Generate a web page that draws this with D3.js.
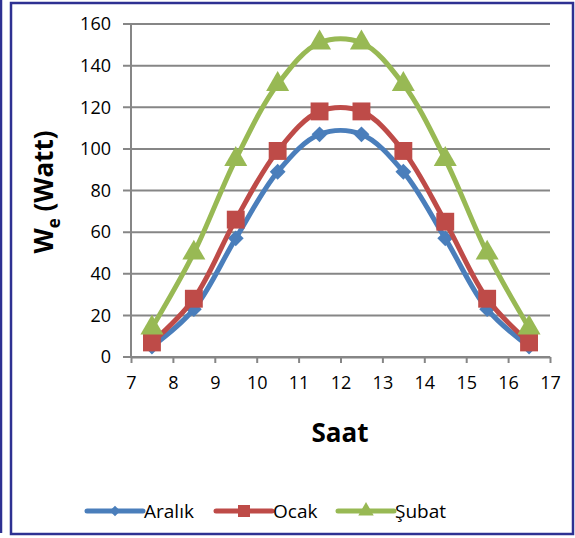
<!DOCTYPE html>
<html lang="tr">
  <head>
    <meta charset="UTF-8">
    <script src="https://d3js.org/d3.v7.min.js"></script>
    <title>We (Watt)</title>
    <style>
      body { margin: 0; background: #fff; }
      svg { display: block; font-family: "Open Sans", sans-serif; }
    </style>
  </head>
  <body>
    <div id="chart"></div>
    <script>
      // saat değerleri (x)
      const hours = [7.5, 8.5, 9.5, 10.5, 11.5, 12.5, 13.5, 14.5, 15.5, 16.5];
      const aralik = [5, 23, 57, 89, 107, 107, 89, 57, 23, 5];
      const ocak = [7, 28, 66, 99, 118, 118, 99, 65, 28, 7];
      const subat = [14, 50, 95, 131, 151, 151, 131, 95, 50, 14];
      const xTicks = [7, 8, 9, 10, 11, 12, 13, 14, 15, 16, 17];
      const yTicks = [0, 20, 40, 60, 80, 100, 120, 140, 160];

      const series = [
        { name: 'Aralık', values: aralik, color: '#4A7EBB', symbol: d3.symbolDiamond2, size: 160 },
        { name: 'Ocak', values: ocak, color: '#BE4B48', symbol: d3.symbolSquare, size: 320 },
        { name: 'Şubat', values: subat, color: '#98B954', symbol: d3.symbolTriangle, size: 230 }
      ];

      const width = 575, height = 538;
      const svg = d3.select('#chart').append('svg')
        .attr('width', width).attr('height', height);

      // çerçeve
      svg.append('line').attr('x1', 1).attr('x2', 1).attr('y1', 0).attr('y2', 533)
        .attr('stroke', '#2E3192').attr('stroke-width', 2.5);
      svg.append('rect').attr('x', 11).attr('y', 3).attr('width', 562).attr('height', 531)
        .attr('fill', 'none').attr('stroke', '#2E3192').attr('stroke-width', 2.5);

      const x = d3.scaleLinear().domain([7, 17]).range([131, 550]);
      const y = d3.scaleLinear().domain([0, 160]).range([357, 24]);

      // ızgara
      svg.append('g').selectAll('line').data(yTicks).join('line')
        .attr('x1', 123).attr('x2', 550)
        .attr('y1', d => y(d)).attr('y2', d => y(d))
        .attr('stroke', '#868686').attr('stroke-width', 2);

      svg.append('line').attr('x1', 131).attr('x2', 131).attr('y1', y(160)).attr('y2', y(0))
        .attr('stroke', '#868686').attr('stroke-width', 2);

      const xAxis = svg.append('g').attr('transform', `translate(0,${y(0)})`)
        .call(d3.axisBottom(x).tickValues(xTicks).tickSize(6).tickSizeOuter(0).tickPadding(13));
      xAxis.select('.domain').attr('stroke', '#868686').attr('stroke-width', 2);
      xAxis.selectAll('.tick line').attr('stroke', '#868686').attr('stroke-width', 2);
      xAxis.selectAll('.tick text').attr('font-size', 18).attr('fill', '#000')
        .attr('font-family', '"Open Sans", sans-serif');

      svg.append('g').selectAll('text').data(yTicks).join('text')
        .attr('x', 111).attr('y', d => y(d)).attr('dy', '0.35em')
        .attr('text-anchor', 'end').attr('font-size', 18).text(d => d);

      // eksen başlıkları
      svg.append('text').attr('x', 340).attr('y', 442).attr('text-anchor', 'middle')
        .attr('font-size', 26).attr('font-weight', 'bold').text('Saat');

      const yl = svg.append('text').attr('transform', 'translate(53,192) rotate(-90)')
        .attr('text-anchor', 'middle').attr('font-size', 26).attr('font-weight', 'bold');
      yl.append('tspan').text('W');
      yl.append('tspan').attr('font-size', 17).attr('dy', 7).text('e');
      yl.append('tspan').attr('dy', -7).text(' (Watt)');

      const line = d3.line().curve(d3.curveCatmullRom.alpha(0.5))
        .x((d, i) => x(hours[i])).y(d => y(d));

      series.forEach(s => {
        const g = svg.append('g');
        g.append('path').attr('d', line(s.values)).attr('fill', 'none')
          .attr('stroke', s.color).attr('stroke-width', 5);
        g.selectAll('path.m').data(s.values).join('path').attr('class', 'm')
          .attr('transform', (d, i) => `translate(${x(hours[i])},${y(d)})`)
          .attr('d', d3.symbol(s.symbol, s.size)).attr('fill', s.color);
      });

      // lejant
      const legX = [87, 216, 338];
      series.forEach((s, i) => {
        const g = svg.append('g').attr('transform', `translate(${legX[i]},511)`);
        g.append('line').attr('x1', 0).attr('x2', 56).attr('stroke', s.color)
          .attr('stroke-width', 5).attr('stroke-linecap', 'round');
        g.append('path').attr('transform', 'translate(28,0)')
          .attr('d', d3.symbol(s.symbol, s.size * 0.45)).attr('fill', s.color);
        g.append('text').attr('x', 57).attr('y', 0).attr('dy', '0.35em')
          .attr('font-size', 19).text(s.name);
      });
    </script>
  </body>
</html>
